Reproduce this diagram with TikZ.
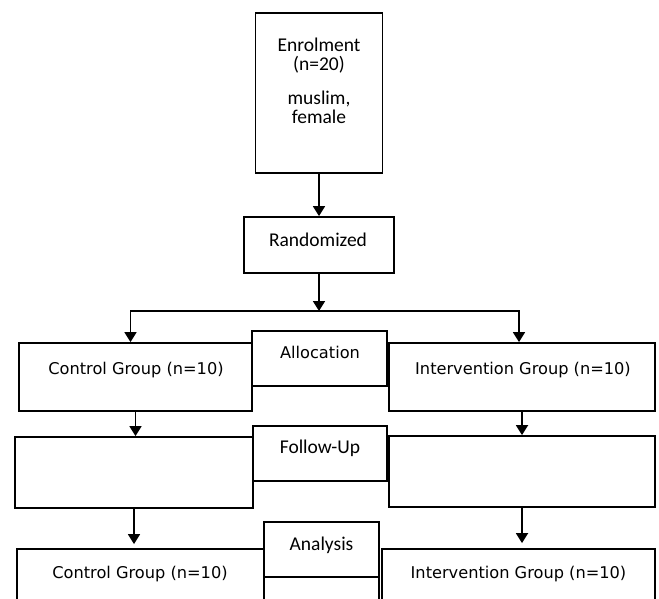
\documentclass[tikz,border=0pt]{standalone}
\usepackage{fontspec}
\newfontfamily\calfont{Carlito}
\newfontfamily\verfont{DejaVu Sans}
\usetikzlibrary{arrows.meta}
\begin{document}
\begin{tikzpicture}
[x=1pt,y=-1pt,
  boxdecorate/.style={draw,line width=1.8pt,inner sep=0pt},%
  linedecorate/.style={line width=1.8pt,-{Triangle[length=10pt,width=12pt]}},%
  calib/.style={font=\calfont\fontsize{19.5}{20}\selectfont,inner sep=0pt,anchor=base},%
  verd/.style={font=\verfont\fontsize{16.2}{18}\selectfont,inner sep=0pt,anchor=base}]
\useasboundingbox (0,0) rectangle (659,599);
%% boxes
\foreach \boxname/\x/\y/\w/\h in {enrol/319/93/127/160,
  rand/319/245/150/56, ctrl1/135.5/377/233/68, alloc/319.5/358.5/135/55,
  int1/522/377/266/68, fuL/134/472.5/238/71, fuC/320/453.5/134/55,
  fuR/522/471.5/266/71, anC/321.5/549.5/115/55, anD/321.5/608.5/115/63,
  anL/140.5/594.5/247/91, anR/518.5/594.5/273/91} {
  \node (\boxname) at (\x,\y) [boxdecorate,minimum width=\w pt,minimum height=\h pt] {};
}
%% texts
\foreach \lblname/\x/\y/\sty/\txt in {enrolA/319/52/calib/Enrolment,
  enrolB/319/71/calib/(n=20), enrolC/319/105/calib/{muslim,},
  enrolD/319/124/calib/female, randT/318/246/calib/Randomized,
  ctrlT/136/374/verd/Control Group (n=10), allocT/320/358/verd/Allocation,
  intT/523/374/verd/Intervention Group (n=10), fuT/320/453/calib/Follow-Up,
  anT/321.5/550/calib/Analysis, ctrl3T/140/578/verd/Control Group (n=10),
  int3T/518.5/578/verd/Intervention Group (n=10)} {
  \node (\lblname) at (\x,\y) [\sty] {\txt};
}
%% connectors
\coordinate (split) at (319,311);
\draw[linedecorate] (enrol) -- (rand);
\draw[linedecorate] (rand) -- (split);
\draw[linedecorate] (split) -| ([xshift=-5pt]ctrl1.north);
\draw[linedecorate] (split) -| ([xshift=-3pt]int1.north);
\draw[linedecorate] (ctrl1.south) -- (ctrl1.south |- fuL.north);
\draw[linedecorate] (int1.south) -- (int1.south |- fuR.north);
\draw[linedecorate,shorten >=4pt] (fuL.south) -- (fuL.south |- anL.north);
\draw[linedecorate,shorten >=5pt] (fuR.south) -- (fuR.south |- anR.north);
\end{tikzpicture}
\end{document}
